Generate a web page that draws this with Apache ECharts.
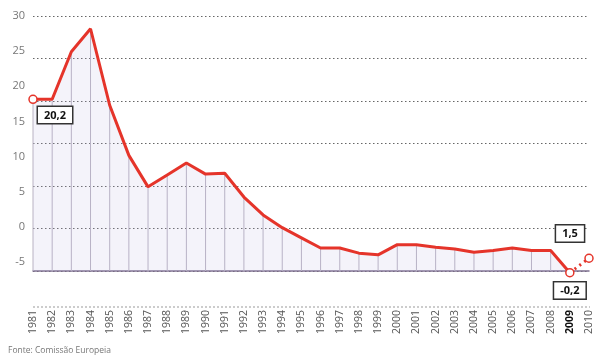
<!DOCTYPE html>
<html>
<head>
<meta charset="utf-8">
<script src="https://cdn.jsdelivr.net/npm/echarts@6/dist/echarts.min.js"></script>
<style>
  html, body { margin: 0; padding: 0; background: #fff; }
  #chart { width: 598px; height: 356px; }
</style>
</head>
<body>
<div id="chart"></div>
<script>
// anos e inflação (%)
const years = ['1981', '1982', '1983', '1984', '1985', '1986', '1987', '1988', '1989', '1990',
  '1991', '1992', '1993', '1994', '1995', '1996', '1997', '1998', '1999', '2000',
  '2001', '2002', '2003', '2004', '2005', '2006', '2007', '2008', '2009', '2010'];
const inflation = [20.2, 20.2, 25.8, 28.5, 19.5, 13.6, 9.9, 11.3, 12.7, 11.4,
  11.5, 8.7, 6.6, 5.1, 3.9, 2.7, 2.7, 2.1, 1.9, 3.1,
  3.1, 2.8, 2.6, 2.2, 2.4, 2.7, 2.4, 2.4, -0.2, 1.5];
const forecastFrom = '2009';

const RED = '#e5342a';
const fmt = v => v.toFixed(1).replace('.', ',');
const lastSolid = years.indexOf(forecastFrom);

const boxLabel = (extra) => Object.assign({
  show: true,
  formatter: p => fmt(p.value),
  backgroundColor: '#fff',
  borderColor: '#333',
  borderWidth: 1.5,
  padding: [3, 6, 2, 6],
  color: '#111',
  fontWeight: 'bold',
  fontSize: 11,
  fontFamily: 'Open Sans'
}, extra);

const pointStyle = { symbol: 'circle', symbolSize: 8, itemStyle: { color: '#fff', borderColor: RED, borderWidth: 1.5 } };

const labelFor = {
  '1981': boxLabel({ position: 'bottom', distance: 3, offset: [22, 0] }),
  '2009': boxLabel({ position: 'bottom', distance: 5 }),
  '2010': boxLabel({ position: 'top', distance: 12, offset: [-19, 0] })
};

const solidData = inflation.map((v, i) => {
  if (i > lastSolid) return null;
  const y = years[i];
  if (y === '1981' || y === '2009') {
    return Object.assign({ value: v, label: labelFor[y] }, pointStyle);
  }
  return { value: v, symbol: 'none' };
});

const forecastData = inflation.map((v, i) => {
  if (i < lastSolid) return null;
  const y = years[i];
  if (y === '2010') return Object.assign({ value: v, label: labelFor[y] }, pointStyle);
  return { value: v, symbol: 'none' };
});

const dropLines = inflation.map((v, i) => (i < lastSolid ? v : null));

const chart = echarts.init(document.getElementById('chart'));

chart.setOption({
  animation: false,
  backgroundColor: '#fff',
  textStyle: { fontFamily: 'Open Sans' },
  grid: [
    { left: 33, right: 9, top: 16, bottom: 85 },
    { left: 33, right: 9, top: 16, bottom: 94 }
  ],
  xAxis: [{
    type: 'category',
    data: years,
    boundaryGap: false,
    axisLine: { lineStyle: { color: '#7d6f8e', width: 1.5 } },
    axisTick: { show: false },
    axisLabel: {
      rotate: 90,
      margin: 39,
      interval: 0,
      fontSize: 10.5,
      color: '#555',
      formatter: v => v === '2009' ? '{b|' + v + '}' : v,
      rich: { b: { fontWeight: 'bold', color: '#111', fontSize: 10.5 } }
    },
    splitLine: { show: false }
  }, {
    gridIndex: 1,
    type: 'category',
    data: years,
    show: false
  }],
  yAxis: [{
    type: 'value',
    min: 0,
    max: 30,
    interval: 5,
    axisLabel: { show: false },
    axisLine: { show: false },
    axisTick: { show: false },
    splitLine: { lineStyle: { color: '#666', type: [1.5, 2.5], width: 1 } }
  }, {
    gridIndex: 1,
    type: 'value',
    min: -5,
    max: 30,
    interval: 5,
    axisLine: { show: false },
    axisTick: { show: false },
    splitLine: { show: false },
    axisLabel: { margin: 8, fontSize: 11, color: '#777' }
  }],
  graphic: [
    {
      type: 'line',
      shape: { x1: 33, y1: 307, x2: 590, y2: 307 },
      style: { stroke: '#999', lineWidth: 1, lineDash: [2, 2] }
    },
    {
      type: 'text',
      left: 8,
      top: 346,
      style: { text: 'Fonte: Comissão Europeia', fill: '#777', fontSize: 8.5, fontFamily: 'Open Sans' }
    }
  ],
  series: [
    {
      type: 'bar',
      data: dropLines,
      barWidth: 1,
      itemStyle: { color: '#b9b3c2' },
      silent: true,
      z: 1
    },
    {
      type: 'line',
      data: solidData,
      clip: false,
      lineStyle: { color: RED, width: 3 },
      areaStyle: { color: 'rgba(185,178,220,0.22)', origin: 0 },
      z: 3
    },
    {
      type: 'line',
      data: forecastData,
      clip: false,
      lineStyle: { color: RED, width: 3, type: [2, 4] },
      z: 3
    }
  ]
});
</script>
</body>
</html>
